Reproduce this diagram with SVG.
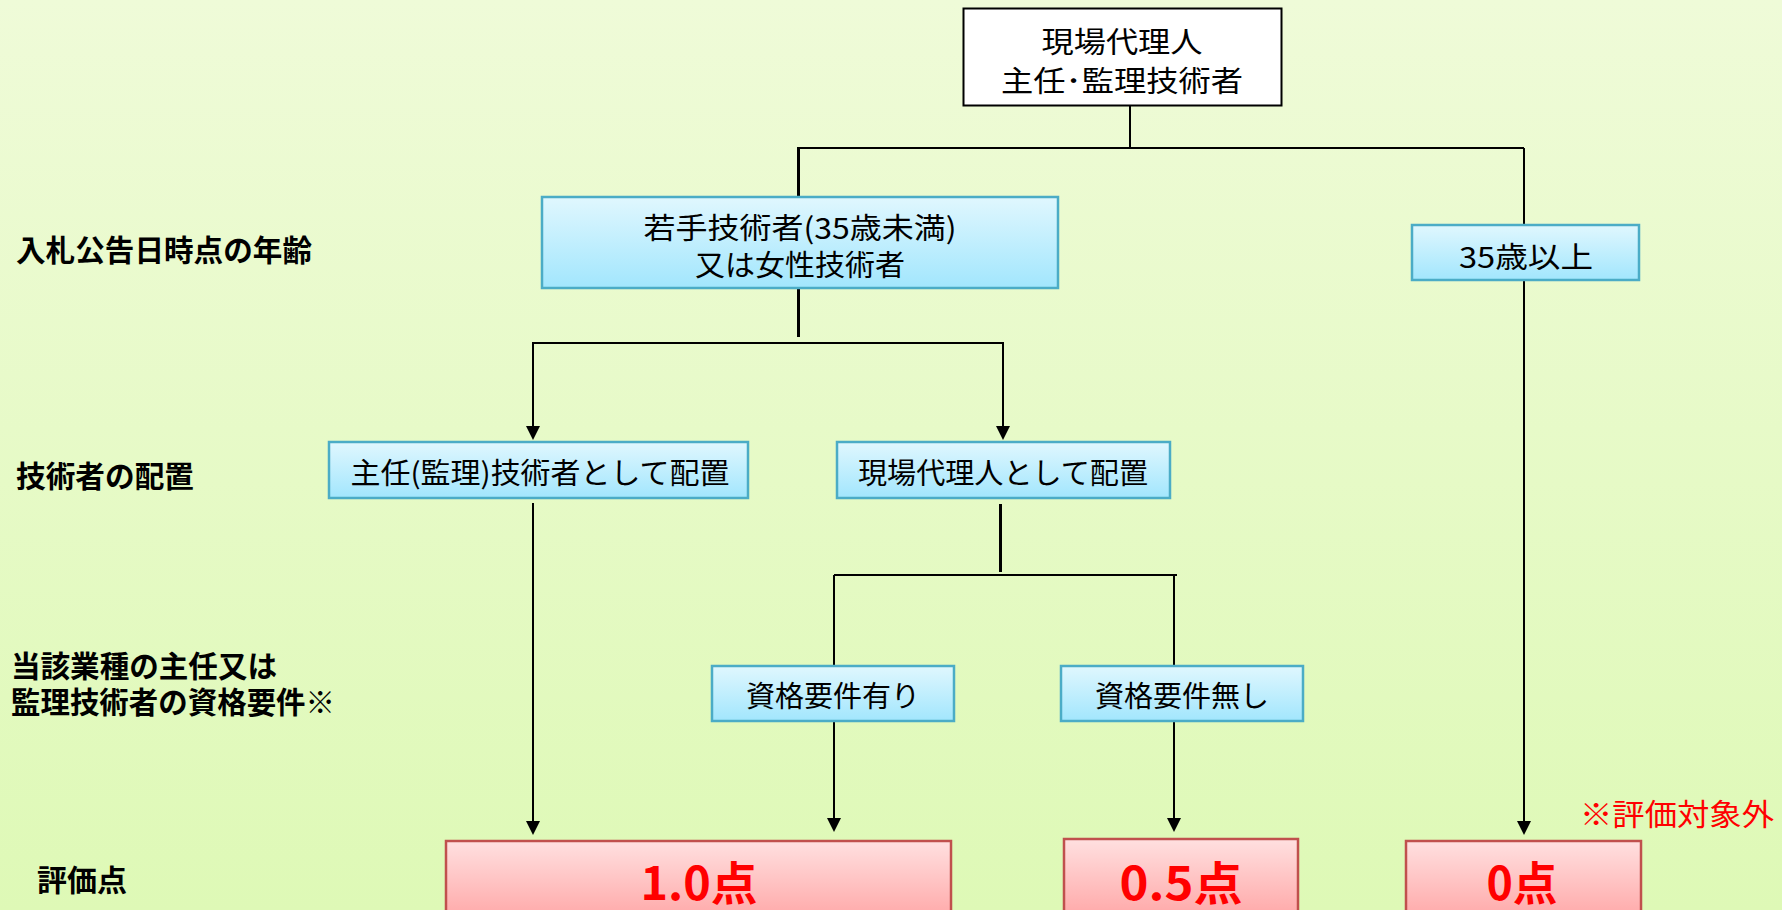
<svg xmlns="http://www.w3.org/2000/svg" width="1782" height="910" viewBox="0 0 1782 910">
<style>
.lbl{font-family:"Noto Sans CJK JP","Noto Sans",sans-serif;font-weight:700;font-size:29.5px;fill:#000}
.bt{font-family:"Noto Sans CJK JP","Noto Sans",sans-serif;font-weight:400;font-size:29px;fill:#000}
.blue{fill:url(#gBlue);stroke:#4BACC6;stroke-width:2.5}
.red{fill:url(#gRed);stroke:#C0504D;stroke-width:2.5}
.rt{font-family:"Noto Sans CJK JP","Noto Sans",sans-serif;font-weight:700;font-size:46px;fill:#FF0000}
.ln{stroke:#000;fill:none;stroke-width:2}
.thick{stroke-width:3}
.arr{marker-end:url(#ah)}
</style>
<defs>
<linearGradient id="gBg" x1="0" y1="0" x2="0" y2="1">
<stop offset="0" stop-color="#EFFBD8"/>
<stop offset="1" stop-color="#DEF9B6"/>
</linearGradient>
<linearGradient id="gBlue" x1="0" y1="0" x2="0" y2="1">
<stop offset="0" stop-color="#E0F7FE"/>
<stop offset="1" stop-color="#A2E6FD"/>
</linearGradient>
<linearGradient id="gRed" x1="0" y1="0" x2="0" y2="1">
<stop offset="0" stop-color="#FFE0E0"/>
<stop offset="1" stop-color="#FF9898"/>
</linearGradient>
<marker id="ah" viewBox="0 0 14 14" markerWidth="14" markerHeight="14" markerUnits="userSpaceOnUse" refX="2" refY="7" orient="auto">
<path d="M0,0 L14,7 L0,14 z" fill="#000"/>
</marker>
</defs>
<rect x="0" y="0" width="1782" height="910" fill="url(#gBg)"/>

<g id="labels">
<text class="lbl" x="16" y="248" dominant-baseline="central" textLength="296" lengthAdjust="spacingAndGlyphs">入札公告日時点の年齢</text>
<text class="lbl" x="16" y="474" dominant-baseline="central" textLength="178" lengthAdjust="spacingAndGlyphs">技術者の配置</text>
<text class="lbl" x="11" y="664" dominant-baseline="central" textLength="266" lengthAdjust="spacingAndGlyphs">当該業種の主任又は</text>
<text class="lbl" x="11" y="700" dominant-baseline="central" textLength="324" lengthAdjust="spacingAndGlyphs">監理技術者の資格要件※</text>
<text class="lbl" x="37" y="878" dominant-baseline="central" textLength="90" lengthAdjust="spacingAndGlyphs">評価点</text>
</g>

<g id="connectors">
<line class="ln" x1="1130" y1="106" x2="1130" y2="148"/>
<line class="ln" x1="797" y1="148" x2="1524" y2="148" stroke-width="2.5"/>
<line class="ln thick" x1="798.5" y1="147" x2="798.5" y2="196"/>
<line class="ln" x1="1524" y1="148" x2="1524" y2="225"/>
<line class="ln thick" x1="798.5" y1="288" x2="798.5" y2="337"/>
<line class="ln" x1="532" y1="343" x2="1004" y2="343" stroke-width="2.5"/>
<line class="ln arr" x1="533" y1="342" x2="533" y2="428"/>
<line class="ln arr" x1="1003" y1="342" x2="1003" y2="428"/>
<line class="ln arr" x1="533" y1="503" x2="533" y2="823"/>
<line class="ln thick" x1="1000.5" y1="504" x2="1000.5" y2="572"/>
<line class="ln" x1="834" y1="575" x2="1177" y2="575"/>
<line class="ln" x1="834" y1="575" x2="834" y2="666"/>
<line class="ln" x1="1174" y1="575" x2="1174" y2="666"/>
<line class="ln arr" x1="834" y1="721" x2="834" y2="820"/>
<line class="ln arr" x1="1174" y1="721" x2="1174" y2="820"/>
<line class="ln arr" x1="1524" y1="281" x2="1524" y2="823"/>
</g>

<g id="n-top">
<rect x="963.5" y="8.5" width="318" height="97" fill="#FFFFFF" stroke="#000" stroke-width="2"/>
<text class="bt" x="1122" y="40" text-anchor="middle" dominant-baseline="central" font-size="31" textLength="161" lengthAdjust="spacingAndGlyphs">現場代理人</text>
<text class="bt" x="1122" y="79" text-anchor="middle" dominant-baseline="central" font-size="31" textLength="242" lengthAdjust="spacingAndGlyphs">主任･監理技術者</text>
</g>

<g id="n-young">
<rect class="blue" x="542" y="197" width="516" height="91"/>
<text class="bt" x="800" y="226" text-anchor="middle" dominant-baseline="central" font-size="30" textLength="313" lengthAdjust="spacingAndGlyphs">若手技術者(35歳未満)</text>
<text class="bt" x="800" y="263" text-anchor="middle" dominant-baseline="central" font-size="30" textLength="210" lengthAdjust="spacingAndGlyphs">又は女性技術者</text>
</g>

<g id="n-over35">
<rect class="blue" x="1412" y="225" width="227" height="55"/>
<text class="bt" x="1526" y="255" text-anchor="middle" dominant-baseline="central" font-size="30" textLength="134" lengthAdjust="spacingAndGlyphs">35歳以上</text>
</g>

<g id="n-chief">
<rect class="blue" x="329" y="442" width="419" height="56"/>
<text class="bt" x="540" y="471" text-anchor="middle" dominant-baseline="central" textLength="379" lengthAdjust="spacingAndGlyphs">主任(監理)技術者として配置</text>
</g>

<g id="n-agent">
<rect class="blue" x="837" y="442" width="333" height="56"/>
<text class="bt" x="1003" y="471" text-anchor="middle" dominant-baseline="central" textLength="290" lengthAdjust="spacingAndGlyphs">現場代理人として配置</text>
</g>

<g id="n-qual-yes">
<rect class="blue" x="712" y="666" width="242" height="55"/>
<text class="bt" x="833" y="694" text-anchor="middle" dominant-baseline="central" textLength="174" lengthAdjust="spacingAndGlyphs">資格要件有り</text>
</g>

<g id="n-qual-no">
<rect class="blue" x="1061" y="666" width="242" height="55"/>
<text class="bt" x="1182" y="694" text-anchor="middle" dominant-baseline="central" textLength="174" lengthAdjust="spacingAndGlyphs">資格要件無し</text>
</g>

<g id="n-score10">
<rect class="red" x="446" y="841" width="505" height="100"/>
<text class="rt" x="699" y="880" text-anchor="middle" dominant-baseline="central" textLength="117" lengthAdjust="spacingAndGlyphs">1.0点</text>
</g>

<g id="n-score05">
<rect class="red" x="1064" y="839" width="234" height="100"/>
<text class="rt" x="1181" y="880" text-anchor="middle" dominant-baseline="central" textLength="123" lengthAdjust="spacingAndGlyphs">0.5点</text>
</g>

<g id="n-score0">
<rect class="red" x="1406" y="841" width="235" height="100"/>
<text class="rt" x="1522" y="880" text-anchor="middle" dominant-baseline="central" textLength="71" lengthAdjust="spacingAndGlyphs">0点</text>
</g>

<g id="note">
<text x="1677" y="812" text-anchor="middle" dominant-baseline="central" font-family="Noto Sans CJK JP, Noto Sans, sans-serif" font-size="30" fill="#FF0000" textLength="194" lengthAdjust="spacingAndGlyphs">※評価対象外</text>
</g>
</svg>
